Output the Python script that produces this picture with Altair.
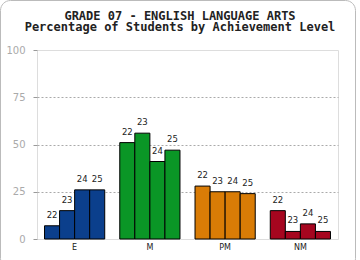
import altair as alt
import pandas as pd

levels = ["E", "M", "PM", "NM"]
years = ["22", "23", "24", "25"]
values_E = [7, 15, 26, 26]
values_M = [51, 56, 41, 47]
values_PM = [28, 25, 25, 24]
values_NM = [15, 4, 8, 4]
colors = ["#0b3f8c", "#0a9626", "#d97c06", "#a6061f"]
y_ticks = [0, 25, 50, 75, 100]
title_lines = ["GRADE 07 - ENGLISH LANGUAGE ARTS", "Percentage of Students by Achievement Level"]

rows = []
for lvl, vals in zip(levels, [values_E, values_M, values_PM, values_NM]):
    for yr, v in zip(years, vals):
        rows.append({"level": lvl, "year": yr, "value": v})
df = pd.DataFrame(rows)

x_enc = alt.X("level:N", sort=levels,
              scale=alt.Scale(paddingInner=0.2, paddingOuter=0.1),
              axis=alt.Axis(title=None, labelAngle=0, ticks=False, domain=False,
                            labelFont="DejaVu Sans", labelFontSize=8, labelColor="#222",
                            labelPadding=4))
y_enc = alt.Y("value:Q", scale=alt.Scale(domain=[0, 100], nice=False),
              axis=alt.Axis(title=None, values=y_ticks, domain=False,
                            tickColor="#999", tickSize=4, labelPadding=8,
                            labelFont="DejaVu Sans", labelFontSize=10, labelColor="#aaa",
                            gridColor="#aaa", gridDash=[2, 2],
                            gridOpacity={"condition": {"test": "datum.value > 0 && datum.value < 100", "value": 1}, "value": 0}))

base = alt.Chart(df)

bars = base.mark_bar(stroke="black", strokeWidth=1).encode(
    x=x_enc,
    xOffset=alt.XOffset("year:N", sort=years, scale=alt.Scale(paddingInner=0, paddingOuter=0)),
    y=y_enc,
    color=alt.Color("level:N", sort=levels, scale=alt.Scale(domain=levels, range=colors), legend=None),
)

labels = base.mark_text(dy=-6, baseline="bottom", font="DejaVu Sans", fontSize=8.5, color="#222").encode(
    x=alt.X("level:N", sort=levels),
    xOffset=alt.XOffset("year:N", sort=years),
    y="value:Q",
    text="year:N",
)

frame = alt.Chart(alt.Data(values=[{}])).mark_rect(
    fill=None, stroke="#bbbbbb", strokeWidth=1, cornerRadius=10
).encode(
    x=alt.value(-36.5), x2=alt.value(318.5), y=alt.value(-49.5), y2=alt.value(218.5)
)

chart = alt.layer(bars, labels, frame).properties(
    width=301, height=189,
    autosize=alt.AutoSizeParams(type="none"),
    padding={"left": 37, "top": 50, "right": 22, "bottom": 21},
    title=alt.TitleParams(text=title_lines, font="DejaVu Sans Mono", fontSize=12,
                          fontWeight="bold", color="#222", anchor="middle", dx=-7.5,
                          frame="group", baseline="bottom",
                          offset=-46, lineHeight=11),
).configure_view(stroke="#e6e6e6").configure(background="white")

chart.save("out.html", embed_options={"renderer": "svg", "actions": False})
